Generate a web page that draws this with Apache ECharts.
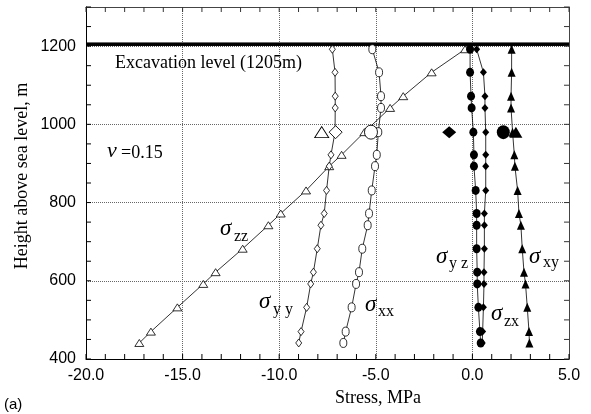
<!DOCTYPE html>
<html>
<head>
<meta charset="utf-8">
<script src="https://cdn.jsdelivr.net/npm/echarts@6/dist/echarts.min.js"></script>
<style>
html,body{margin:0;padding:0;background:#fff;}
#c{width:591px;height:414px;}
</style>
</head>
<body>
<div id="c"></div>
<script>
// ---- data ----
var heights = [1192, 1133, 1072, 1042, 980, 922, 893, 831, 772, 742, 682, 622, 592, 532, 470, 441];
var sigmaZZ = [-0.38, -2.11, -3.58, -4.26, -5.59, -6.77, -7.41, -8.61, -9.92, -10.56, -11.89, -13.29, -13.93, -15.27, -16.64, -17.24];
var sigmaYY = [-7.25, -7.11, -7.10, -7.10, -7.11, -7.32, -7.41, -7.55, -7.67, -7.84, -8.03, -8.23, -8.37, -8.58, -8.87, -8.99];
var sigmaXX = [-5.18, -4.83, -4.73, -4.73, -4.87, -4.95, -5.04, -5.21, -5.35, -5.42, -5.70, -5.87, -6.02, -6.25, -6.56, -6.68];
var sigmaYZ = [-0.12, -0.12, -0.07, -0.04, 0.05, 0.08, 0.08, 0.17, 0.22, 0.22, 0.22, 0.25, 0.25, 0.31, 0.39, 0.43];
var sigmaZX = [0.22, 0.57, 0.65, 0.65, 0.69, 0.69, 0.69, 0.69, 0.62, 0.62, 0.62, 0.60, 0.60, 0.57, 0.53, 0.51];
var sigmaXY = [2.03, 2.03, 2.00, 2.00, 2.08, 2.17, 2.20, 2.34, 2.41, 2.51, 2.58, 2.67, 2.75, 2.84, 2.93, 2.95];
// measured (large markers)
var measuredHeight = 980;
var measZZ = -7.8, measYY = -7.08, measXX = -5.25, measZX = -1.2, measYZ = 1.6, measXY = 2.25;
var excavationLevel = 1205;
var xTicks = [-20, -15, -10, -5, 0, 5];
var yTicks = [400, 600, 800, 1000, 1200];
var xMin = -20, xMax = 5, yMin = 400, yMax = 1300;

function pairs(xs) { return xs.map(function (v, i) { return [v, heights[i]]; }); }

// minor tick positions (every 1 MPa, every 50 m)
var xTickVals = [];
for (var tx = xMin; tx <= xMax; tx += 1) xTickVals.push(tx);
var yTickVals = [];
for (var ty = yMin; ty <= yMax; ty += 50) yTickVals.push(ty);

var chart = echarts.init(document.getElementById('c'), null, {renderer: 'canvas'});
var serif = 'Liberation Serif, Times New Roman, serif';
var sans = 'Liberation Sans, Arial, sans-serif';

function lineSeries(name, xs, symbol, size, filled) {
  return {
    name: name, type: 'line', xAxisIndex: 0, yAxisIndex: 0,
    data: pairs(xs), symbol: symbol, symbolSize: size, showSymbol: true,
    lineStyle: {color: '#000', width: 0.8},
    itemStyle: {color: filled ? '#000' : '#fff', borderColor: '#000', borderWidth: filled ? 0 : 0.8, opacity: 1},
    z: 5, silent: true
  };
}
function measSeries(x, symbol, size, filled) {
  return {
    type: 'scatter', xAxisIndex: 0, yAxisIndex: 0,
    data: [[x, measuredHeight]], symbol: symbol, symbolSize: size,
    itemStyle: {color: filled ? '#000' : '#fff', borderColor: '#000', borderWidth: filled ? 0 : 0.9, opacity: 1},
    z: 6, silent: true
  };
}
// inward tick marks drawn as thin rect symbols placed by the axes
var tickLen = 5;
function tickSeries(data, size, offset, color) {
  return {
    type: 'scatter', xAxisIndex: 0, yAxisIndex: 0, data: data, clip: false, silent: true, z: 7,
    symbol: 'rect', symbolSize: size, symbolOffset: offset,
    itemStyle: {color: color, opacity: 1, borderWidth: 0}
  };
}
var tickSeriesList = [
  tickSeries(xTickVals.map(function (v) { return [v, yMin]; }), [1, tickLen], [0, -tickLen / 2], '#000'),
  tickSeries(xTickVals.map(function (v) { return [v, yMax]; }), [1, tickLen], [0, tickLen / 2], '#333'),
  tickSeries(yTickVals.map(function (v) { return [xMin, v]; }), [tickLen, 1], [tickLen / 2, 0], '#000'),
  tickSeries(yTickVals.map(function (v) { return [xMax, v]; }), [tickLen, 1], [-tickLen / 2, 0], '#333')
];

// label helpers (pixel placement of annotations)
function txt(x, baseline, s, fs, family, italic) {
  return {
    type: 'text', x: x, y: baseline - 0.34 * fs, z: 100,
    style: {text: s, fontSize: fs, fontFamily: family, fontStyle: italic ? 'italic' : 'normal',
            fill: '#000', verticalAlign: 'middle', align: 'left'}
  };
}
var sigLabels = [
  [220, 237, 234, 242, 'zz'],
  [259, 310, 273, 315, 'y y'],
  [365, 313, 378, 317, 'xx'],
  [436, 265, 449, 269, 'y z'],
  [491, 322, 504, 327, 'zx'],
  [529, 265, 543, 268, 'xy']
];
var graphics = [];
sigLabels.forEach(function (l) {
  graphics.push(txt(l[0], l[1], 'σ', 23, serif, true));
  graphics.push(txt(l[2], l[3], l[4], 16, serif, false));
});
graphics.push(txt(115, 69, 'Excavation level (1205m)', 18, serif, false));
graphics.push(txt(107, 159, 'ν', 22, serif, true));
graphics.push(txt(121, 159, '=0.15', 18, serif, false));
graphics.push({type: 'text', x: 378, y: 398, z: 100,
  style: {text: 'Stress, MPa', fontSize: 18, fontFamily: serif, fill: '#000', align: 'center', verticalAlign: 'middle'}});
graphics.push({type: 'text', x: 22, y: 176, rotation: Math.PI / 2, z: 100,
  style: {text: 'Height above sea level, m', fontSize: 18, fontFamily: serif, fill: '#000', align: 'center', verticalAlign: 'middle'}});
graphics.push({type: 'text', x: 4, y: 405, z: 100,
  style: {text: '(a)', fontSize: 15, fontFamily: sans, fill: '#000', align: 'left', verticalAlign: 'middle'}});

// y axes sit on the grid edges: tie their "on zero" to a hidden x axis that does not cross 0
var yLine = function (c) { return {show: true, onZero: true, onZeroAxisIndex: 2, lineStyle: {color: c}}; };

var option = {
  animation: false,
  backgroundColor: '#fff',
  grid: {left: 86, right: 22, top: 7, bottom: 55, containLabel: false},
  xAxis: [
    {type: 'value', position: 'bottom', min: xMin, max: xMax, interval: 5,
     axisLine: {show: true, lineStyle: {color: '#000'}},
     axisTick: {show: false},
     axisLabel: {color: '#000', fontSize: 16, fontFamily: sans, margin: 9,
                 formatter: function (v) { return v.toFixed(1); }},
     splitLine: {show: true, lineStyle: {type: 'dotted', color: '#666'}}},
    {type: 'value', position: 'top', min: xMin, max: xMax, interval: 5,
     axisLine: {show: true, lineStyle: {color: '#444'}}, axisLabel: {show: false}, splitLine: {show: false},
     axisTick: {show: false}},
    {type: 'value', show: false, position: 'bottom', min: 1, max: 2}
  ],
  yAxis: [
    {type: 'value', position: 'left', min: yMin, max: yMax, interval: 50,
     axisLine: yLine('#000'),
     axisTick: {show: false},
     axisLabel: {color: '#000', fontSize: 16, fontFamily: sans, margin: 10,
                 formatter: function (v) { return yTicks.indexOf(v) >= 0 ? String(v) : ''; }},
     splitLine: {show: false}},
    {type: 'value', position: 'right', min: yMin, max: yMax, interval: 50,
     axisLine: yLine('#444'), axisLabel: {show: false}, splitLine: {show: false},
     axisTick: {show: false}},
    {type: 'value', position: 'left', min: yMin, max: yMax, interval: 200,
     axisLine: {show: false, onZero: true, onZeroAxisIndex: 2}, axisLabel: {show: false}, axisTick: {show: false},
     splitLine: {show: true, lineStyle: {type: 'dotted', color: '#666'}}}
  ],
  graphic: graphics,
  series: [
    {type: 'line', xAxisIndex: 0, yAxisIndex: 0, data: [[xMin, excavationLevel], [xMax, excavationLevel]],
     symbol: 'none', lineStyle: {color: '#000', width: 3}, z: 4, silent: true},
    {type: 'line', xAxisIndex: 1, yAxisIndex: 1, data: [[xMin, excavationLevel], [xMax, excavationLevel]],
     symbol: 'none', lineStyle: {color: '#000', width: 3}, z: 4, silent: true},
    {type: 'line', xAxisIndex: 0, yAxisIndex: 2, data: [[xMin, excavationLevel], [xMax, excavationLevel]],
     symbol: 'none', lineStyle: {color: '#000', width: 3}, z: 4, silent: true},
    lineSeries('σzz', sigmaZZ, 'triangle', [9, 7], false),
    lineSeries('σyy', sigmaYY, 'diamond', [6, 8], false),
    lineSeries('σxx', sigmaXX, 'circle', [7, 9], false),
    lineSeries('σyz', sigmaYZ, 'circle', [8, 9], true),
    lineSeries('σzx', sigmaZX, 'diamond', [7, 8], true),
    lineSeries('σxy', sigmaXY, 'triangle', [8, 9], true),
    measSeries(measZZ, 'triangle', [14, 11], false),
    measSeries(measYY, 'diamond', [13, 13], false),
    measSeries(measXX, 'circle', [13, 14], false),
    measSeries(measZX, 'diamond', [14, 12], true),
    measSeries(measYZ, 'circle', [13, 14], true),
    measSeries(measXY, 'triangle', [13, 11], true)
  ].concat(tickSeriesList)
};
chart.setOption(option);
</script>
</body>
</html>
